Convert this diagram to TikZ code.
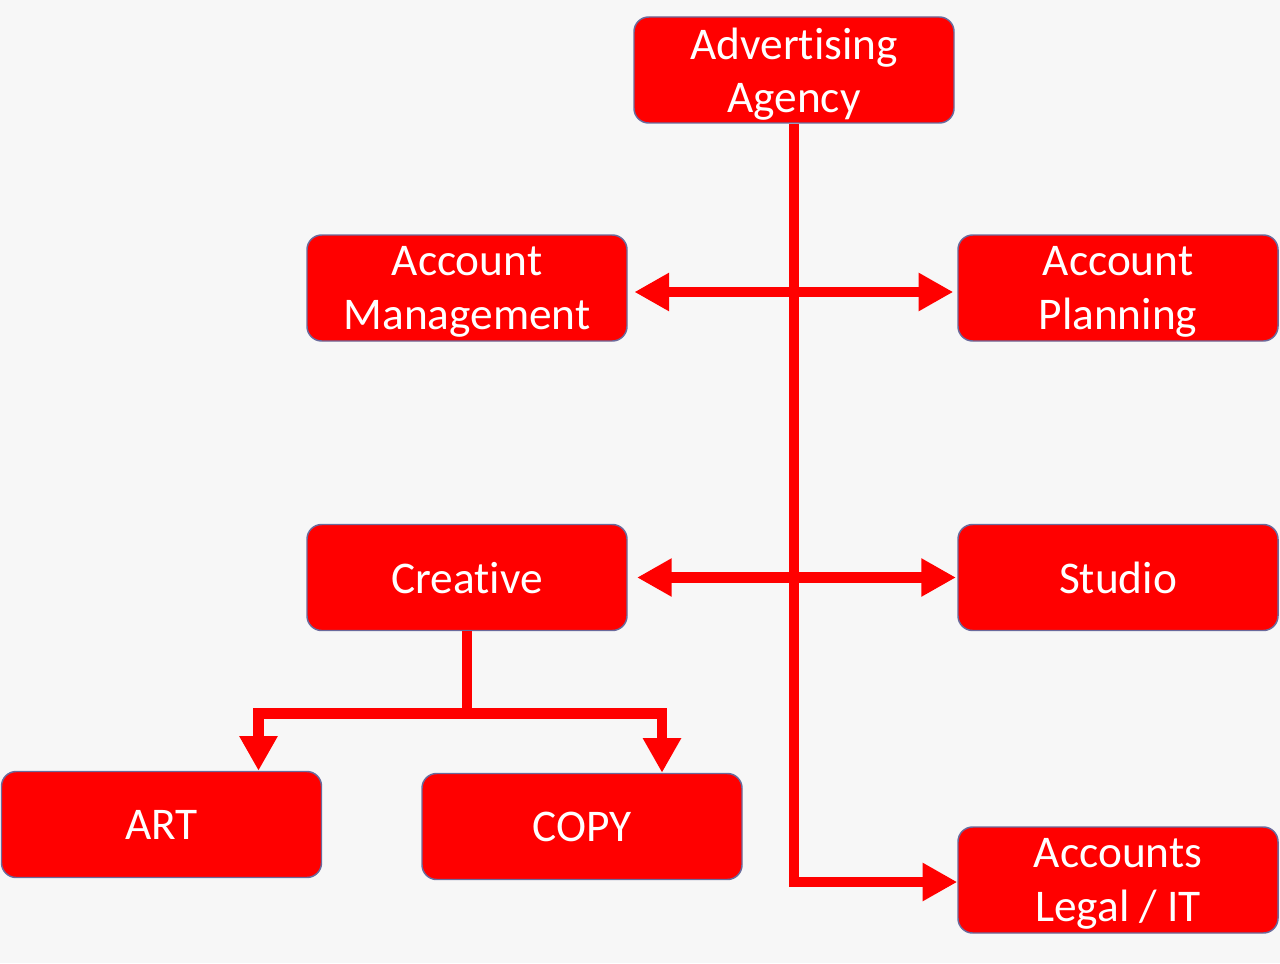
\documentclass[tikz,border=0pt]{standalone}
\usepackage{fontspec}
\setmainfont{Carlito}[Ligatures={NoCommon}]
\usetikzlibrary{arrows.meta}
\definecolor{bg}{HTML}{F7F7F7}
\definecolor{boxred}{HTML}{FF0000}
\definecolor{boxedge}{HTML}{6A6A9C}
\tikzset{
  box/.style={rectangle, rounded corners=11pt, fill=boxred, draw=boxedge, line width=1.1pt,
    minimum width=240pt, minimum height=79.5pt, text=white, align=center,
    font=\fontsize{34pt}{40pt}\selectfont, inner sep=0pt, text depth=0pt},
  conn/.style={draw=boxred, line width=8pt},
  tip/.style={-{Triangle[length=26pt,width=27pt]}},
  dtip/.style={{Triangle[length=26pt,width=27pt]}-{Triangle[length=26pt,width=27pt]}}
}
\begin{document}
\begin{tikzpicture}[x=0.75pt,y=-0.75pt]
\useasboundingbox[fill=bg] (0,0) rectangle (1280,963);
\node[box] (adv) at (794,70) {Advertising\\Agency};
\node[box] (am) at (467,288) {Account\\Management};
\node[box] (ap) at (1118,288) {Account\\Planning};
\node[box] (cr) at (467,577.5) {Creative};
\node[box] (st) at (1118,577.5) {Studio};
\node[box] (art) at (161.5,824.5) {ART};
\node[box] (copy) at (582,826.5) {COPY};
\node[box] (acc) at (1118,880) {Accounts\\Legal / IT};
% main trunk
\draw[conn, tip, line width=7.5pt] (adv.south) |- ([yshift=-1.5pt]acc.west);
% double arrows
\draw[conn, dtip] ([xshift=5pt,yshift=-3pt]am.east) -- ([xshift=-3pt,yshift=-3pt]ap.west);
\draw[conn, dtip] ([xshift=7pt]cr.east) -- ([xshift=-1pt]st.west);
% creative branch
\coordinate (j) at ([yshift=-61.5pt]cr.south);
\draw[conn] (cr.south) -- (j);
\draw[conn, tip] ([xshift=4pt]j) -| ([xshift=72.75pt]art.north);
\draw[conn, tip] ([xshift=-4pt]j) -| ([xshift=60pt]copy.north);
\end{tikzpicture}
\end{document}
